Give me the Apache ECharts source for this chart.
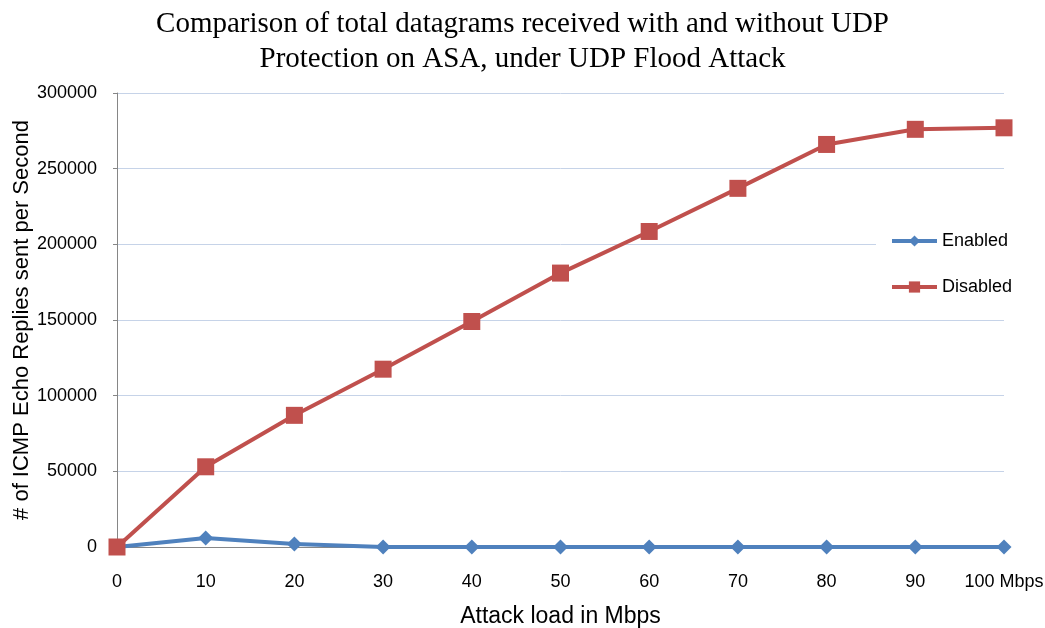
<!DOCTYPE html>
<html><head><meta charset="utf-8">
<script src="https://cdn.jsdelivr.net/npm/echarts@6/dist/echarts.min.js"></script>
<style>html,body{margin:0;padding:0;background:#fff}#c{width:1045px;height:628px}</style>
</head><body><div id="c"></div>
<script>
const categories = ['0','10','20','30','40','50','60','70','80','90','100 Mbps'];
const enabled = [0, 6000, 2000, 0, 0, 0, 0, 0, 0, 0, 0];
const disabled = [0, 53000, 87000, 117500, 149000, 181000, 208500, 237000, 266000, 276000, 277000];
const yTicks = {min: 0, max: 300000, interval: 50000};
const titleText = 'Comparison of total datagrams received with and without UDP\nProtection on ASA, under UDP Flood Attack';

const chart = echarts.init(document.getElementById('c'));
const font = 'Liberation Sans';
chart.setOption({
  animation: false,
  backgroundColor: '#fff',
  title: {
    text: titleText, left: 'center', top: 2,
    textStyle: {fontFamily: 'Liberation Serif', fontSize: 29, fontWeight: 'normal', color: '#000', lineHeight: 35}
  },
  grid: {left: 117, right: 41, top: 93, bottom: 81, containLabel: false, outerBoundsMode: 'none'},
  legend: {
    orient: 'vertical', left: 876, top: 228, itemGap: 28,
    backgroundColor: '#fff', padding: [4, 8, 4, 14],
    itemWidth: 45, itemHeight: 14,
    lineStyle: {width: 4},
    textStyle: {fontFamily: font, fontSize: 18, color: '#000'},
    data: ['Enabled', 'Disabled']
  },
  xAxis: {
    type: 'category', data: categories, boundaryGap: false,
    name: 'Attack load in Mbps', nameLocation: 'middle', nameGap: 58, nameMoveOverlap: false,
    nameTextStyle: {fontFamily: font, fontSize: 23, color: '#000'},
    axisLine: {lineStyle: {color: '#868686', width: 1}},
    axisTick: {show: false},
    axisLabel: {fontFamily: font, fontSize: 18, color: '#000', margin: 26, interval: 0},
    splitLine: {show: false}
  },
  yAxis: {
    type: 'value', min: yTicks.min, max: yTicks.max, interval: yTicks.interval,
    name: '# of ICMP Echo Replies sent per Second', nameLocation: 'middle', nameGap: 84, nameMoveOverlap: false,
    nameTextStyle: {fontFamily: font, fontSize: 22, color: '#000'},
    axisLine: {show: true, lineStyle: {color: '#868686', width: 1}},
    axisTick: {show: true, length: 4, lineStyle: {color: '#868686'}},
    axisLabel: {fontFamily: font, fontSize: 18, color: '#000', margin: 20, formatter: v => String(v)},
    splitLine: {lineStyle: {color: '#C6D3E8', width: 1}}
  },
  series: [
    {name: 'Enabled', type: 'line', data: enabled, symbol: 'diamond', symbolSize: 15,
     itemStyle: {color: '#4F81BD'}, lineStyle: {color: '#4F81BD', width: 4}, z: 3},
    {name: 'Disabled', type: 'line', data: disabled, symbol: 'rect', symbolSize: 17,
     itemStyle: {color: '#C0504D'}, lineStyle: {color: '#C0504D', width: 4}, z: 4}
  ]
});
</script></body></html>
